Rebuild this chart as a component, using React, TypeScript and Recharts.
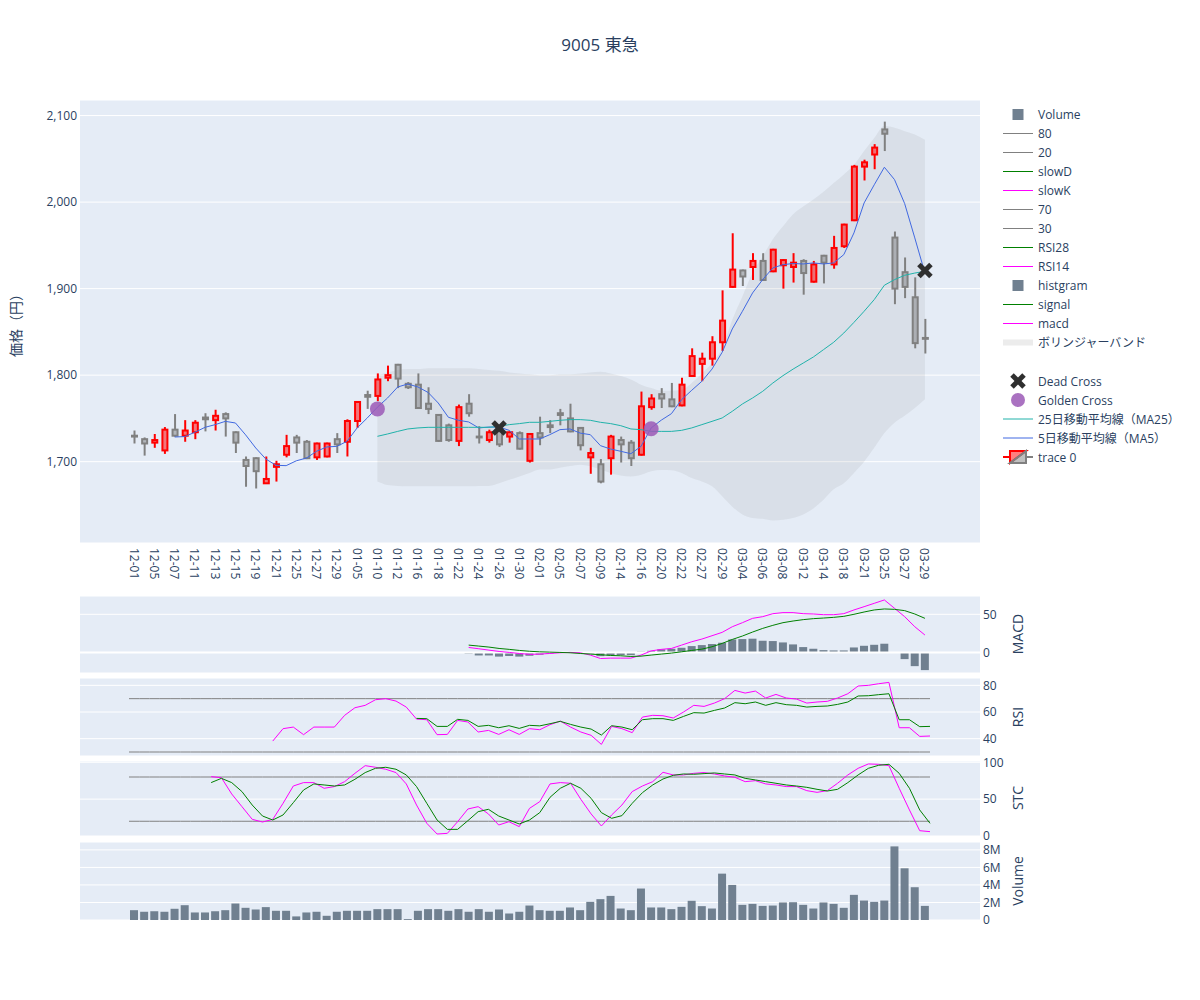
import React from "react";
import { ComposedChart, Bar, Line, Area, XAxis, YAxis, CartesianGrid, ReferenceLine } from "recharts";

const FONT = '"Open Sans", "Noto Sans CJK JP", sans-serif';
const INK = "#2a3f5f";
const PLOT_BG = "#E5ECF6";

const pad = (n: number) => Array(n).fill(null);

// 取引日（2023-12-01 〜 2024-03-29）
const DATES = [
  "12-01", "12-04", "12-05", "12-06", "12-07", "12-08", "12-11", "12-12", "12-13", "12-14",
  "12-15", "12-18", "12-19", "12-20", "12-21", "12-22", "12-25", "12-26", "12-27", "12-28",
  "12-29", "01-04", "01-05", "01-09", "01-10", "01-11", "01-12", "01-15", "01-16", "01-17",
  "01-18", "01-19", "01-22", "01-23", "01-24", "01-25", "01-26", "01-29", "01-30", "01-31",
  "02-01", "02-02", "02-05", "02-06", "02-07", "02-08", "02-09", "02-13", "02-14", "02-15",
  "02-16", "02-19", "02-20", "02-21", "02-22", "02-26", "02-27", "02-28", "02-29", "03-01",
  "03-04", "03-05", "03-06", "03-07", "03-08", "03-11", "03-12", "03-13", "03-14", "03-15",
  "03-18", "03-19", "03-21", "03-22", "03-25", "03-26", "03-27", "03-28", "03-29",
];

const OPEN = [
  1730, 1726, 1722, 1713, 1737, 1730, 1734, 1751, 1748, 1755,
  1734, 1702, 1704, 1675, 1694, 1708, 1728, 1723, 1705, 1706,
  1726, 1723, 1747, 1777, 1776, 1797, 1812, 1790, 1789, 1767,
  1754, 1742, 1724, 1767, 1729, 1725, 1735, 1729, 1733, 1701,
  1733, 1742, 1756, 1750, 1739, 1705, 1697, 1704, 1725, 1722,
  1708, 1763, 1778, 1772, 1765, 1799, 1813, 1819, 1838, 1902,
  1921, 1925, 1932, 1920, 1927, 1925, 1932, 1908, 1938, 1928,
  1949, 1979, 2041, 2055, 2084, 1959, 1919, 1890, 1843,
];
const HIGH = [
  1736, 1728, 1732, 1740, 1755, 1748, 1748, 1756, 1760, 1757,
  1735, 1706, 1705, 1706, 1701, 1731, 1731, 1725, 1722, 1722,
  1733, 1749, 1770, 1782, 1802, 1811, 1813, 1792, 1802, 1786,
  1755, 1744, 1766, 1778, 1741, 1737, 1740, 1735, 1735, 1733,
  1752, 1748, 1761, 1767, 1740, 1716, 1703, 1731, 1729, 1725,
  1781, 1778, 1785, 1791, 1797, 1831, 1826, 1845, 1898, 1964,
  1922, 1941, 1941, 1946, 1934, 1941, 1934, 1932, 1939, 1961,
  1975, 2043, 2049, 2067, 2093, 1966, 1936, 1913, 1865,
];
const LOW = [
  1721, 1707, 1716, 1709, 1729, 1723, 1726, 1735, 1736, 1729,
  1710, 1671, 1669, 1675, 1677, 1705, 1710, 1703, 1702, 1705,
  1710, 1706, 1739, 1761, 1770, 1793, 1785, 1784, 1761, 1755,
  1723, 1723, 1718, 1752, 1721, 1722, 1717, 1722, 1714, 1699,
  1719, 1733, 1742, 1734, 1713, 1686, 1675, 1685, 1699, 1695,
  1707, 1760, 1762, 1763, 1764, 1799, 1793, 1811, 1828, 1901,
  1903, 1910, 1909, 1919, 1900, 1907, 1893, 1907, 1906, 1923,
  1947, 1978, 2025, 2038, 2059, 1882, 1889, 1831, 1825,
];
const CLOSE = [
  1729, 1721, 1725, 1737, 1730, 1736, 1745, 1749, 1753, 1750,
  1722, 1695, 1689, 1680, 1697, 1718, 1722, 1704, 1721, 1721,
  1720, 1747, 1769, 1775, 1795, 1800, 1796, 1786, 1762, 1761,
  1724, 1725, 1763, 1756, 1728, 1734, 1720, 1734, 1715, 1732,
  1728, 1740, 1754, 1735, 1719, 1710, 1677, 1729, 1720, 1704,
  1764, 1773, 1773, 1764, 1789, 1822, 1819, 1838, 1863, 1922,
  1914, 1932, 1910, 1945, 1933, 1930, 1918, 1928, 1930, 1947,
  1974, 2041, 2046, 2063, 2079, 1900, 1902, 1837, 1842,
];

const MA5 = [
  ...pad(4),
  1728.5, 1729, 1734, 1739.7, 1742.8, 1746.6, 1744.7, 1731, 1715.8, 1703,
  1695.8, 1695.4, 1701, 1704.2, 1712, 1717, 1717.7, 1723.5, 1739, 1750.5,
  1763, 1773.6, 1786.3, 1789.8, 1786.3, 1780, 1767.8, 1751.3, 1747.8, 1745.9,
  1739, 1740, 1740, 1736.2, 1726.2, 1726.2, 1726.2, 1731.2, 1737, 1737.8,
  1733, 1731.2, 1718.5, 1714.6, 1712, 1709.2, 1717.7, 1739, 1748, 1755.5,
  1771.7, 1782.5, 1792.9, 1807, 1826.4, 1853.4, 1873.8, 1895, 1910.4, 1923.9,
  1927.7, 1929, 1928.5, 1929.7, 1928.5, 1929.7, 1939.3, 1964.4, 1999, 2020,
  2040.3, 2026, 1998.3, 1958.6, 1918,
];
const MA25 = [
  ...pad(24),
  1729.3, 1732, 1735, 1737.8, 1739, 1739.7, 1739.7, 1739.7, 1739.7, 1739.7,
  1739.7, 1739.7, 1740.8, 1742.8, 1744, 1745.5, 1745.5, 1746.6, 1747.8, 1748.6,
  1748.6, 1747.8, 1745.5, 1744, 1741.6, 1737.8, 1737, 1735, 1735, 1735,
  1736.2, 1739, 1742.8, 1746.6, 1750.5, 1758.2, 1766.7, 1773.6, 1781.3, 1790.9,
  1799.4, 1807, 1814, 1821, 1829.5, 1838, 1848.7, 1861, 1873.8, 1887.3,
  1903.9, 1910.4, 1915.4, 1918, 1920,
];
const BB_UPPER = [
  ...pad(24),
  1800, 1803, 1806, 1807, 1807, 1808, 1808, 1808, 1808, 1808,
  1807, 1806, 1805, 1803, 1802, 1801, 1800, 1800, 1801, 1801,
  1802, 1803, 1804, 1802, 1799, 1795, 1789, 1785, 1782, 1782,
  1783, 1791, 1802, 1814, 1831, 1864, 1891, 1918, 1937, 1957,
  1972, 1986, 1995, 2003, 2012, 2022, 2032, 2043, 2059, 2074,
  2088, 2086, 2082, 2078, 2072,
];
const BB_LOWER = [
  ...pad(24),
  1677, 1673, 1672, 1671.5, 1671.5, 1671.5, 1671.5, 1671.5, 1671.5, 1671.5,
  1672, 1672, 1675, 1679, 1683, 1687, 1691, 1691, 1693, 1695,
  1696.5, 1694.6, 1691, 1687, 1684, 1683, 1685, 1689, 1690.5, 1690,
  1687, 1681, 1677, 1671.5, 1660, 1648, 1639, 1635, 1634, 1632,
  1633, 1635, 1639, 1646, 1656, 1668, 1675, 1687, 1700, 1716,
  1733, 1745, 1753, 1762, 1772,
];

const GOLDEN_CROSS = [
  { date: "01-10", price: 1761 },
  { date: "02-19", price: 1738 },
];
const DEAD_CROSS = [
  { date: "01-26", price: 1739 },
  { date: "03-29", price: 1921 },
];

const MACD = [
  ...pad(33),
  6.5, 4.8, 3.0, 1.3, 0.0, -1.4, -2.5,
  -2.2, -1.4, -0.5, 0.0, -0.5, -3.5, -8.0, -7.5, -7.5, -7.5,
  -3.5, 2.0, 4.0, 5.2, 9.6, 14.0, 17.5, 21.9, 26.3, 33.7,
  39.0, 44.7, 46.9, 50.8, 52.2, 52.2, 50.8, 50.4, 49.5, 49.5,
  50.8, 55.7, 60.0, 64.4, 68.8, 57.9, 46.9, 33.7, 22.8,
];
const SIGNAL = [
  ...pad(33),
  9.6, 8.3, 7.0, 5.2, 4.0, 2.6, 1.5,
  0.8, 0.4, 0.0, -0.5, -1.4, -2.2, -3.0, -4.0, -4.4, -5.3,
  -4.9, -3.5, -2.2, -0.9, 0.8, 2.6, 4.3, 7.4, 11.8, 17.0,
  21.5, 26.7, 31.5, 35.5, 39.0, 41.2, 43.0, 44.3, 45.1, 46.0,
  47.3, 50.0, 53.0, 55.7, 57.0, 56.5, 54.8, 50.4, 44.7,
];
const HIST = [
  ...pad(33),
  -1.5, -4.0, -4.0, -5.5, -4.8, -5.5, -4.4,
  -3.0, -2.0, -0.5, 0.4, -0.8, -1.5, -4.9, -4.0, -3.5, -3.5,
  1.0, 2.1, 4.0, 4.8, 6.1, 8.3, 9.6, 11.0, 12.7, 17.0,
  17.5, 18.0, 15.3, 14.9, 13.1, 10.5, 7.0, 4.8, 3.0, 2.6,
  2.6, 6.5, 8.7, 10.0, 11.4, 0.3, -8.8, -18.0, -23.2,
];

const RSI14 = [
  ...pad(14),
  38.2, 47.5, 48.7, 43.0, 48.7, 48.7,
  48.7, 57.5, 63.2, 65.0, 69.2, 70.0, 68.2, 63.7, 54.7, 54.2,
  43.0, 43.2, 53.7, 52.5, 45.0, 46.2, 43.2, 46.7, 43.2, 47.5,
  46.7, 50.5, 53.2, 48.7, 45.0, 42.5, 35.7, 49.2, 47.5, 44.5,
  56.2, 57.5, 57.2, 55.5, 60.0, 65.0, 64.2, 66.7, 70.0, 76.2,
  74.2, 75.7, 70.5, 73.2, 70.5, 69.7, 66.7, 67.5, 68.0, 70.5,
  73.7, 79.5, 80.0, 81.2, 82.2, 48.2, 48.2, 41.7, 42.0,
];
const RSI28 = [
  ...pad(28),
  55.2, 55.0,
  49.2, 49.2, 54.5, 53.7, 49.2, 50.0, 48.2, 49.7, 47.7, 50.0,
  49.6, 51.2, 53.0, 50.7, 48.7, 47.2, 42.7, 49.7, 48.7, 46.7,
  54.2, 55.0, 55.0, 53.7, 56.7, 59.5, 59.2, 61.2, 63.0, 67.0,
  66.2, 67.5, 65.0, 67.0, 65.5, 65.0, 63.7, 64.2, 64.5, 65.7,
  67.5, 72.0, 72.2, 73.0, 73.7, 54.2, 54.2, 49.0, 49.2,
];
const RSI_LINES = { upper: 70, lower: 30 };

const SLOW_K = [
  ...pad(8),
  80.5, 79.0,
  57.0, 39.8, 22.6, 19.0, 22.6, 44.3, 67.8, 72.4, 72.4, 64.7,
  67.0, 73.7, 85.0, 95.4, 93.2, 90.5, 86.0, 70.6, 42.0, 17.2,
  2.7, 3.6, 19.4, 36.6, 39.8, 29.9, 14.9, 19.4, 12.7, 37.5,
  46.6, 70.6, 72.4, 71.5, 49.7, 29.9, 13.6, 28.5, 42.0, 60.2,
  67.8, 73.7, 86.4, 82.8, 82.8, 85.0, 86.0, 84.1, 81.4, 79.6,
  73.7, 75.0, 70.6, 69.2, 67.0, 67.0, 61.5, 59.2, 61.5, 71.5,
  82.8, 91.8, 97.7, 97.2, 95.4, 64.7, 35.3, 7.2, 5.9,
];
const SLOW_D = [
  ...pad(8),
  72.4, 78.2,
  72.4, 60.2, 42.0, 27.1, 21.7, 28.5, 45.2, 62.4, 70.6, 69.2,
  67.8, 69.2, 76.9, 86.0, 91.8, 93.2, 90.5, 82.8, 67.0, 44.3,
  21.7, 9.0, 9.0, 20.8, 33.0, 36.2, 27.1, 21.7, 16.3, 21.7,
  31.7, 52.5, 64.7, 71.5, 64.7, 51.1, 31.7, 24.0, 27.6, 44.3,
  58.8, 69.2, 77.3, 82.3, 84.1, 83.7, 84.6, 85.5, 84.1, 82.8,
  78.2, 76.0, 73.7, 71.5, 69.2, 67.8, 66.0, 63.3, 61.0, 63.3,
  72.4, 82.8, 91.8, 95.9, 97.2, 85.0, 64.7, 35.3, 17.2,
];
const STC_LINES = { upper: 80, lower: 20 };

const VOLUME = [
  1120000, 940000, 1000000, 940000, 1280000, 1690000, 860000, 860000, 1000000, 1120000,
  1880000, 1390000, 1200000, 1470000, 1050000, 1050000, 410000, 860000, 940000, 480000,
  940000, 1050000, 1050000, 1050000, 1240000, 1240000, 1240000, 100000, 1050000, 1240000,
  1240000, 1050000, 1240000, 940000, 1240000, 940000, 1200000, 750000, 940000, 1650000,
  1120000, 1050000, 1050000, 1430000, 1120000, 2070000, 2380000, 2750000, 1310000, 1120000,
  3590000, 1430000, 1430000, 1240000, 1500000, 2190000, 1580000, 1310000, 5290000, 4000000,
  1730000, 1840000, 1610000, 1650000, 2000000, 2030000, 1730000, 1310000, 2000000, 1840000,
  1390000, 2870000, 2220000, 2070000, 2220000, 8400000, 5900000, 3740000, 1610000,
];

const rows = DATES.map((date, i) => ({
  date,
  open: OPEN[i],
  high: HIGH[i],
  low: LOW[i],
  close: CLOSE[i],
  range: [LOW[i], HIGH[i]],
  ma5: MA5[i],
  ma25: MA25[i],
  band: BB_UPPER[i] == null ? null : [BB_LOWER[i], BB_UPPER[i]],
  gc: GOLDEN_CROSS.find((p) => p.date === date)?.price ?? null,
  dc: DEAD_CROSS.find((p) => p.date === date)?.price ?? null,
  macd: MACD[i],
  signal: SIGNAL[i],
  hist: HIST[i],
  rsi14: RSI14[i],
  rsi28: RSI28[i],
  rsiHi: RSI_LINES.upper,
  rsiLo: RSI_LINES.lower,
  slowK: SLOW_K[i],
  slowD: SLOW_D[i],
  stcHi: STC_LINES.upper,
  stcLo: STC_LINES.lower,
  volume: VOLUME[i],
}));

const X_PAD = { left: 49, right: 50 };
const tickStyle = { fontSize: 12, fill: INK, fontFamily: FONT };

function Candle(props: any) {
  const { x, y, width, height, payload } = props;
  if (!payload || payload.open == null) return <g />;
  const { open, close, high, low } = payload;
  const top = Math.min(y, y + height);
  const span = Math.abs(height);
  const k = high === low ? 0 : span / (high - low);
  const yOf = (v: number) => top + (high - v) * k;
  const up = close > open;
  const color = up ? "#FF0000" : "#808080";
  const fill = up ? "rgba(255,0,0,0.5)" : "rgba(128,128,128,0.5)";
  const cx = x + width / 2;
  const bTop = yOf(Math.max(open, close));
  const bBot = yOf(Math.min(open, close));
  return (
    <g>
      <line x1={cx} x2={cx} y1={top} y2={bTop} stroke={color} strokeWidth={2} />
      <line x1={cx} x2={cx} y1={bBot} y2={top + span} stroke={color} strokeWidth={2} />
      <rect x={x} y={bTop} width={width} height={Math.max(bBot - bTop, 0)} fill={fill} stroke={color} strokeWidth={2} />
    </g>
  );
}

function GoldenDot(props: any) {
  const { cx, cy, value, index } = props;
  if (value == null || cy == null) return <g key={"g" + index} />;
  return <circle key={"g" + index} cx={cx} cy={cy} r={7.5} fill="#9B59B6" fillOpacity={0.85} />;
}

function DeadDot(props: any) {
  const { cx, cy, value, index } = props;
  if (value == null || cy == null) return <g key={"d" + index} />;
  return (
    <g key={"d" + index} stroke="#2F2F2F" strokeWidth={5}>
      <line x1={cx - 6} y1={cy - 6} x2={cx + 6} y2={cy + 6} />
      <line x1={cx - 6} y1={cy + 6} x2={cx + 6} y2={cy - 6} />
    </g>
  );
}

function DateTick(props: any) {
  const { x, y, payload } = props;
  return (
    <text
      x={x}
      y={y}
      transform={`rotate(90 ${x} ${y})`}
      textAnchor="start"
      dominantBaseline="central"
      {...tickStyle}
    >
      {payload.value}
    </text>
  );
}

function SubChart({
  top,
  plotH,
  domain,
  ticks,
  fmt,
  children,
}: {
  top: number;
  plotH: number;
  domain: number[];
  ticks: number[];
  fmt?: (v: number) => string;
  children: React.ReactNode;
}) {
  return (
    <div style={{ position: "absolute", left: 0, top: top - 10 }}>
      <ComposedChart width={1200} height={plotH + 20} data={rows} margin={{ top: 10, right: 160, bottom: 10, left: 80 }}>
        <CartesianGrid vertical={false} stroke="#fff" fill={PLOT_BG} fillOpacity={1} />
        <XAxis dataKey="date" type="category" padding={X_PAD} hide />
        <YAxis
          orientation="right"
          width={60}
          domain={domain}
          ticks={ticks}
          interval={0}
          allowDataOverflow
          tickLine={false}
          axisLine={false}
          tickSize={0}
          tickMargin={3}
          tick={tickStyle}
          tickFormatter={fmt}
        />
        {children}
      </ComposedChart>
    </div>
  );
}

const LEGEND = [
  { label: "Volume", kind: "square", color: "#708090", y: 114.5 },
  { label: "80", kind: "line", color: "#808080", y: 133.5 },
  { label: "20", kind: "line", color: "#808080", y: 152.5 },
  { label: "slowD", kind: "line", color: "green", y: 171.5 },
  { label: "slowK", kind: "line", color: "magenta", y: 190.5 },
  { label: "70", kind: "line", color: "#808080", y: 209.5 },
  { label: "30", kind: "line", color: "#808080", y: 228.5 },
  { label: "RSI28", kind: "line", color: "green", y: 247.5 },
  { label: "RSI14", kind: "line", color: "magenta", y: 266.5 },
  { label: "histgram", kind: "square", color: "#708090", y: 285.5 },
  { label: "signal", kind: "line", color: "green", y: 304.5 },
  { label: "macd", kind: "line", color: "magenta", y: 323.5 },
  { label: "ボリンジャーバンド", kind: "band", color: "#808080", y: 342.5 },
  { label: "Dead Cross", kind: "x", color: "#2F2F2F", y: 381 },
  { label: "Golden Cross", kind: "circle", color: "#9B59B6", y: 400 },
  { label: "25日移動平均線（MA25）", kind: "line", color: "lightseagreen", y: 419 },
  { label: "5日移動平均線（MA5）", kind: "line", color: "royalblue", y: 438 },
  { label: "trace 0", kind: "candle", color: "#FF0000", y: 457 },
];

function LegendIcon({ kind, color, y }: { kind: string; color: string; y: number }) {
  if (kind === "square") return <rect x={1012.5} y={y - 5.5} width={11} height={11} fill={color} />;
  if (kind === "line") return <line x1={1003} x2={1033} y1={y} y2={y} stroke={color} strokeWidth={1} />;
  if (kind === "band") return <rect x={1003} y={y - 3} width={30} height={6} fill={color} fillOpacity={0.15} />;
  if (kind === "circle") return <circle cx={1018} cy={y} r={7} fill={color} fillOpacity={0.85} />;
  if (kind === "x")
    return (
      <g stroke={color} strokeWidth={5}>
        <line x1={1012} y1={y - 6} x2={1024} y2={y + 6} />
        <line x1={1012} y1={y + 6} x2={1024} y2={y - 6} />
      </g>
    );
  return (
    <g>
      <line x1={1003} x2={1010} y1={y} y2={y} stroke="#FF0000" strokeWidth={2} />
      <polygon points={`1010,${y - 6} 1026,${y - 6} 1010,${y + 6}`} fill="rgba(255,0,0,0.5)" stroke="#FF0000" strokeWidth={2} />
      <polygon points={`1026,${y - 6} 1026,${y + 6} 1010,${y + 6}`} fill="rgba(128,128,128,0.5)" stroke="#808080" strokeWidth={2} />
      <line x1={1026} x2={1033} y1={y} y2={y} stroke="#808080" strokeWidth={2} />
    </g>
  );
}

export default function App() {
  return (
    <div style={{ position: "absolute", left: 0, top: 0, width: 1200, height: 1000, background: "#fff", fontFamily: FONT }}>
      <div style={{ position: "absolute", left: 0, top: 0 }}>
        <ComposedChart width={1200} height={600} data={rows} margin={{ top: 100, right: 220, bottom: 0, left: 0 }}>
          <CartesianGrid vertical={false} stroke="#fff" fill={PLOT_BG} fillOpacity={1} />
          <XAxis
            dataKey="date"
            type="category"
            padding={X_PAD}
            interval={1}
            height={57}
            tickLine={false}
            axisLine={false}
            tickSize={0}
            tickMargin={5}
            tick={<DateTick />}
          />
          <YAxis
            width={80}
            domain={[1606, 2118]}
            ticks={[1700, 1800, 1900, 2000, 2100]}
            interval={0}
            allowDataOverflow
            tickLine={false}
            axisLine={false}
            tickSize={0}
            tickMargin={3}
            tick={tickStyle}
            tickFormatter={(v: number) => v.toLocaleString("en-US")}
          />
          <Area dataKey="band" type="monotone" stroke="none" fill="#808080" fillOpacity={0.12} isAnimationActive={false} />
          <Bar dataKey="range" barSize={5} shape={Candle} isAnimationActive={false} />
          <Line dataKey="ma5" stroke="royalblue" strokeWidth={1} dot={false} isAnimationActive={false} />
          <Line dataKey="ma25" stroke="lightseagreen" strokeWidth={1} dot={false} isAnimationActive={false} />
          <Line dataKey="gc" stroke="none" dot={GoldenDot} activeDot={false} isAnimationActive={false} />
          <Line dataKey="dc" stroke="none" dot={DeadDot} activeDot={false} isAnimationActive={false} />
        </ComposedChart>
      </div>

      <SubChart top={596} plotH={77} domain={[-27, 74]} ticks={[0, 50]}>
        <ReferenceLine y={0} stroke="#fff" strokeWidth={2} />
        <Bar dataKey="hist" fill="#708090" barSize={8} isAnimationActive={false} />
        <Line dataKey="macd" stroke="magenta" strokeWidth={1} dot={false} isAnimationActive={false} />
        <Line dataKey="signal" stroke="green" strokeWidth={1} dot={false} isAnimationActive={false} />
      </SubChart>

      <SubChart top={678} plotH={78} domain={[27, 85.5]} ticks={[40, 60, 80]}>
        <Line dataKey="rsiHi" stroke="#808080" strokeWidth={1} dot={false} isAnimationActive={false} />
        <Line dataKey="rsiLo" stroke="#808080" strokeWidth={1} dot={false} isAnimationActive={false} />
        <Line dataKey="rsi14" stroke="magenta" strokeWidth={1} dot={false} isAnimationActive={false} />
        <Line dataKey="rsi28" stroke="green" strokeWidth={1} dot={false} isAnimationActive={false} />
      </SubChart>

      <SubChart top={761} plotH={75} domain={[0, 101.7]} ticks={[0, 50, 100]}>
        <Line dataKey="stcHi" stroke="#808080" strokeWidth={1} dot={false} isAnimationActive={false} />
        <Line dataKey="stcLo" stroke="#808080" strokeWidth={1} dot={false} isAnimationActive={false} />
        <Line dataKey="slowK" stroke="magenta" strokeWidth={1} dot={false} isAnimationActive={false} />
        <Line dataKey="slowD" stroke="green" strokeWidth={1} dot={false} isAnimationActive={false} />
      </SubChart>

      <SubChart
        top={842}
        plotH={78}
        domain={[0, 8900000]}
        ticks={[0, 2000000, 4000000, 6000000, 8000000]}
        fmt={(v: number) => (v === 0 ? "0" : `${v / 1000000}M`)}
      >
        <Bar dataKey="volume" fill="#708090" barSize={8} isAnimationActive={false} />
      </SubChart>

      <svg width={1200} height={1000} style={{ position: "absolute", left: 0, top: 0, pointerEvents: "none" }}>
        <text x={600} y={44} textAnchor="middle" dominantBaseline="central" fontSize={17} fill={INK} fontFamily={FONT}>
          9005 東急
        </text>
        <text x={15} y={322} transform="rotate(-90 15 322)" textAnchor="middle" dominantBaseline="central" fontSize={14} fill={INK} fontFamily={FONT}>
          価格（円）
        </text>
        {[
          { t: "MACD", y: 634 },
          { t: "RSI", y: 717 },
          { t: "STC", y: 798 },
          { t: "Volume", y: 881 },
        ].map((a) => (
          <text key={a.t} x={1017} y={a.y} transform={`rotate(-90 1017 ${a.y})`} textAnchor="middle" dominantBaseline="central" fontSize={14} fill={INK} fontFamily={FONT}>
            {a.t}
          </text>
        ))}
        {LEGEND.map((it) => (
          <g key={it.label}>
            <LegendIcon kind={it.kind} color={it.color} y={it.y} />
            <text x={1038} y={it.y} dominantBaseline="central" fontSize={12} fill={INK} fontFamily={FONT}>
              {it.label}
            </text>
          </g>
        ))}
      </svg>
    </div>
  );
}
